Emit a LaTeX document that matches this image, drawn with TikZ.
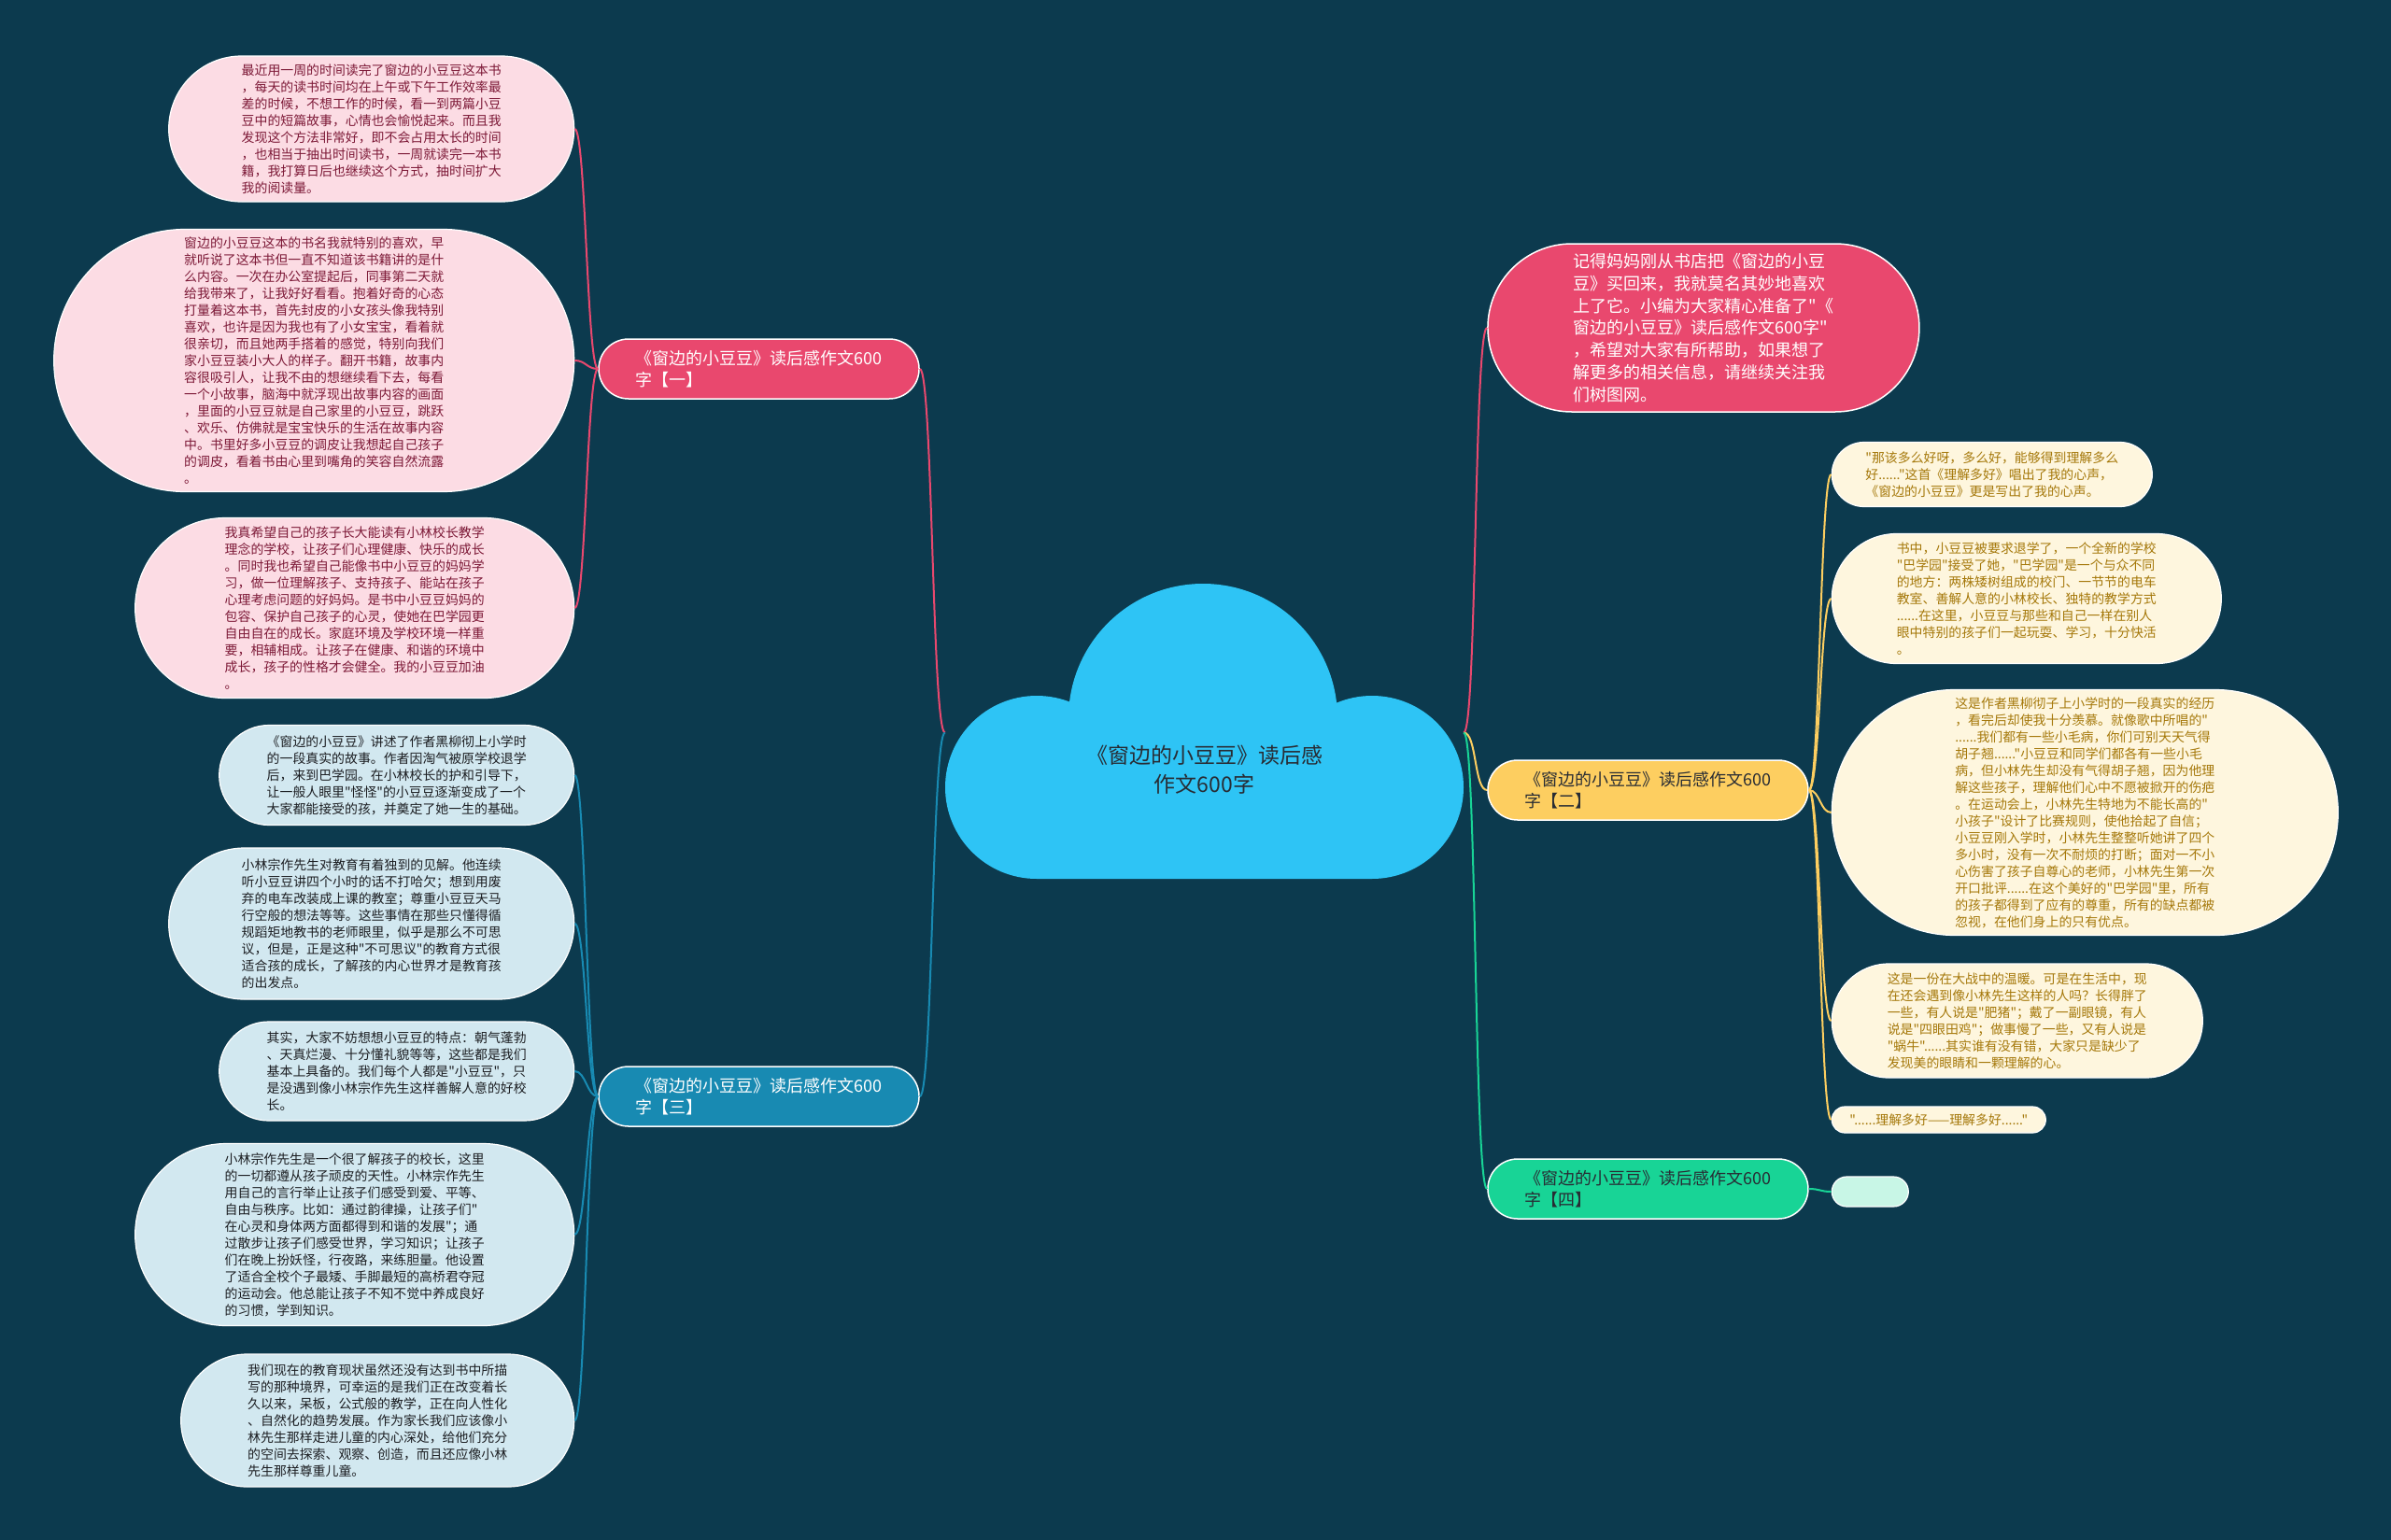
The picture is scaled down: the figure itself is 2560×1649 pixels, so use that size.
\documentclass[tikz,border=0pt]{standalone}
\usepackage{fontspec}
\setmainfont{Noto Sans CJK SC}[Ligatures=TeXOff]
\usepackage{xcolor}
\usepackage{tikz}
\usetikzlibrary{positioning, shapes.misc}
\definecolor{MapBg}{RGB}{12,58,78}
\definecolor{MapSky}{RGB}{46,196,245}
\definecolor{MapInk}{RGB}{40,44,52}
\definecolor{MapRed}{RGB}{233,72,110}
\definecolor{MapTeal}{RGB}{24,138,178}
\definecolor{MapGold}{RGB}{253,206,96}
\definecolor{MapMint}{RGB}{24,212,150}
\definecolor{PinkLeaf}{RGB}{252,220,228}
\definecolor{PinkText}{RGB}{125,25,55}
\definecolor{BlueLeaf}{RGB}{210,232,240}
\definecolor{BlueText}{RGB}{28,30,34}
\definecolor{CreamLeaf}{RGB}{254,246,222}
\definecolor{CreamText}{RGB}{165,120,10}
\definecolor{MintLeaf}{RGB}{200,246,230}

\begin{document}
\begin{tikzpicture}[x=1pt, y=-1pt, every node/.style={align=left},
  branch/.style={rounded rectangle, draw=white, line width=1.5pt, minimum width=343pt, minimum height=64pt, inner xsep=0pt, inner ysep=0pt, font=\fontsize{18}{23}\selectfont},
  leaf/.style={rounded rectangle, draw=white, line width=1.2pt, inner xsep=0pt, inner ysep=0pt, font=\fontsize{13.9}{18}\selectfont},
  pinkleaf/.style={leaf, fill=PinkLeaf, text=PinkText},
  blueleaf/.style={leaf, fill=BlueLeaf, text=BlueText},
  creamleaf/.style={leaf, fill=CreamLeaf, text=CreamText},
  link/.style={line width=2pt}]

\fill[MapBg] (0,0) rectangle (2560,1649);
\useasboundingbox (0,0) rectangle (2560,1649);

% Cloud area of the central topic
\node[minimum width=555pt, minimum height=319pt, inner sep=0pt] (root) at (1289.5,784.5) {};

% First level topics
\node[branch, fill=MapRed, text=white, left=27pt of root, yshift=389.5pt] (b1) {《窗边的小豆豆》读后感作文600\\字【一】};
\node[branch, fill=MapTeal, text=white, left=27pt of root, yshift=-389.5pt] (b3) {《窗边的小豆豆》读后感作文600\\字【三】};
\node[branch, fill=MapRed, text=white, minimum width=462pt, minimum height=180pt, font=\fontsize{18}{23.7}\selectfont, right=25pt of root, yshift=433.5pt] (intro) {记得妈妈刚从书店把《窗边的小豆\\豆》买回来，我就莫名其妙地喜欢\\上了它。小编为大家精心准备了"《\\窗边的小豆豆》读后感作文600字"\\，希望对大家有所帮助，如果想了\\解更多的相关信息，请继续关注我\\们树图网。};
\node[branch, fill=MapGold, text=MapInk, right=25pt of root, yshift=-61.5pt] (b2) {《窗边的小豆豆》读后感作文600\\字【二】};
\node[branch, fill=MapMint, text=MapInk, right=25pt of root, yshift=-488.5pt] (b4) {《窗边的小豆豆》读后感作文600\\字【四】};

% Leaves of topic one
\node[pinkleaf, minimum width=434pt, minimum height=156pt, left=25pt of b1, yshift=257pt] (p1) {最近用一周的时间读完了窗边的小豆豆这本书\\，每天的读书时间均在上午或下午工作效率最\\差的时候，不想工作的时候，看一到两篇小豆\\豆中的短篇故事，心情也会愉悦起来。而且我\\发现这个方法非常好，即不会占用太长的时间\\，也相当于抽出时间读书，一周就读完一本书\\籍，我打算日后也继续这个方式，抽时间扩大\\我的阅读量。};
\node[pinkleaf, minimum width=557pt, minimum height=281pt, left=25pt of b1, yshift=9pt] (p2) {窗边的小豆豆这本的书名我就特别的喜欢，早\\就听说了这本书但一直不知道该书籍讲的是什\\么内容。一次在办公室提起后，同事第二天就\\给我带来了，让我好好看看。抱着好奇的心态\\打量着这本书，首先封皮的小女孩头像我特别\\喜欢，也许是因为我也有了小女宝宝，看着就\\很亲切，而且她两手搭着的感觉，特别向我们\\家小豆豆装小大人的样子。翻开书籍，故事内\\容很吸引人，让我不由的想继续看下去，每看\\一个小故事，脑海中就浮现出故事内容的画面\\，里面的小豆豆就是自己家里的小豆豆，跳跃\\、欢乐、仿佛就是宝宝快乐的生活在故事内容\\中。书里好多小豆豆的调皮让我想起自己孩子\\的调皮，看着书由心里到嘴角的笑容自然流露\\。};
\node[pinkleaf, minimum width=470pt, minimum height=193pt, left=25pt of b1, yshift=-256pt] (p3) {我真希望自己的孩子长大能读有小林校长教学\\理念的学校，让孩子们心理健康、快乐的成长\\。同时我也希望自己能像书中小豆豆的妈妈学\\习，做一位理解孩子、支持孩子、能站在孩子\\心理考虑问题的好妈妈。是书中小豆豆妈妈的\\包容、保护自己孩子的心灵，使她在巴学园更\\自由自在的成长。家庭环境及学校环境一样重\\要，相辅相成。让孩子在健康、和谐的环境中\\成长，孩子的性格才会健全。我的小豆豆加油\\。};

% Leaves of topic three
\node[blueleaf, minimum width=380pt, minimum height=107pt, left=25pt of b3, yshift=344pt] (q1) {《窗边的小豆豆》讲述了作者黑柳彻上小学时\\的一段真实的故事。作者因淘气被原学校退学\\后，来到巴学园。在小林校长的护和引导下，\\让一般人眼里"怪怪"的小豆豆逐渐变成了一个\\大家都能接受的孩，并奠定了她一生的基础。};
\node[blueleaf, minimum width=434pt, minimum height=162pt, left=25pt of b3, yshift=185pt] (q2) {小林宗作先生对教育有着独到的见解。他连续\\听小豆豆讲四个小时的话不打哈欠；想到用废\\弃的电车改装成上课的教室；尊重小豆豆天马\\行空般的想法等等。这些事情在那些只懂得循\\规蹈矩地教书的老师眼里，似乎是那么不可思\\议，但是，正是这种"不可思议"的教育方式很\\适合孩的成长，了解孩的内心世界才是教育孩\\的出发点。};
\node[blueleaf, minimum width=380pt, minimum height=106pt, left=25pt of b3, yshift=27pt] (q3) {其实，大家不妨想想小豆豆的特点：朝气蓬勃\\、天真烂漫、十分懂礼貌等等，这些都是我们\\基本上具备的。我们每个人都是"小豆豆"，只\\是没遇到像小林宗作先生这样善解人意的好校\\长。};
\node[blueleaf, minimum width=470pt, minimum height=195pt, left=25pt of b3, yshift=-148pt] (q4) {小林宗作先生是一个很了解孩子的校长，这里\\的一切都遵从孩子顽皮的天性。小林宗作先生\\用自己的言行举止让孩子们感受到爱、平等、\\自由与秩序。比如：通过韵律操，让孩子们"\\在心灵和身体两方面都得到和谐的发展"；通\\过散步让孩子们感受世界，学习知识；让孩子\\们在晚上扮妖怪，行夜路，来练胆量。他设置\\了适合全校个子最矮、手脚最短的高桥君夺冠\\的运动会。他总能让孩子不知不觉中养成良好\\的习惯，学到知识。};
\node[blueleaf, minimum width=421pt, minimum height=142pt, left=25pt of b3, yshift=-347pt] (q5) {我们现在的教育现状虽然还没有达到书中所描\\写的那种境界，可幸运的是我们正在改变着长\\久以来，呆板，公式般的教学，正在向人性化\\、自然化的趋势发展。作为家长我们应该像小\\林先生那样走进儿童的内心深处，给他们充分\\的空间去探索、观察、创造，而且还应像小林\\先生那样尊重儿童。};

% Leaves of topic two
\node[creamleaf, minimum width=343pt, minimum height=69pt, right=24pt of b2, yshift=338pt] (y1) {"那该多么好呀，多么好，能够得到理解多么\\好......"这首《理解多好》唱出了我的心声，\\《窗边的小豆豆》更是写出了我的心声。};
\node[creamleaf, minimum width=417pt, minimum height=139pt, right=24pt of b2, yshift=205pt] (y2) {书中，小豆豆被要求退学了，一个全新的学校\\"巴学园"接受了她，"巴学园"是一个与众不同\\的地方：两株矮树组成的校门、一节节的电车\\教室、善解人意的小林校长、独特的教学方式\\......在这里，小豆豆与那些和自己一样在别人\\眼中特别的孩子们一起玩耍、学习，十分快活\\。};
\node[creamleaf, minimum width=542pt, minimum height=263pt, right=24pt of b2, yshift=-24pt] (y3) {这是作者黑柳彻子上小学时的一段真实的经历\\，看完后却使我十分羡慕。就像歌中所唱的"\\......我们都有一些小毛病，你们可别天天气得\\胡子翘......"小豆豆和同学们都各有一些小毛\\病，但小林先生却没有气得胡子翘，因为他理\\解这些孩子，理解他们心中不愿被掀开的伤疤\\。在运动会上，小林先生特地为不能长高的"\\小孩子"设计了比赛规则，使他拾起了自信；\\小豆豆刚入学时，小林先生整整听她讲了四个\\多小时，没有一次不耐烦的打断；面对一不小\\心伤害了孩子自尊心的老师，小林先生第一次\\开口批评......在这个美好的"巴学园"里，所有\\的孩子都得到了应有的尊重，所有的缺点都被\\忽视，在他们身上的只有优点。};
\node[creamleaf, minimum width=397pt, minimum height=122pt, right=24pt of b2, yshift=-247pt] (y4) {这是一份在大战中的温暖。可是在生活中，现\\在还会遇到像小林先生这样的人吗？长得胖了\\一些，有人说是"肥猪"；戴了一副眼镜，有人\\说是"四眼田鸡"；做事慢了一些，又有人说是\\"蜗牛"......其实谁有没有错，大家只是缺少了\\发现美的眼睛和一颗理解的心。};
\node[creamleaf, minimum width=229pt, minimum height=28pt, right=24pt of b2, yshift=-353pt] (y5) {"......理解多好——理解多好......"};

% Leaf of topic four (empty)
\node[leaf, fill=MintLeaf, minimum width=82pt, minimum height=32pt, right=24pt of b4, yshift=-3pt] (g1) {};

% Links from the central topic
\draw[link, MapRed] (root.west) .. controls +(-14,0) and +(14,0) .. (b1.east);
\draw[link, MapTeal] (root.west) .. controls +(-14,0) and +(14,0) .. (b3.east);
\draw[link, MapRed] (root.east) .. controls +(14,0) and +(-14,0) .. (intro.west);
\draw[link, MapGold] (root.east) .. controls +(14,0) and +(-14,0) .. (b2.west);
\draw[link, MapMint] (root.east) .. controls +(14,0) and +(-14,0) .. (b4.west);

% Links to the leaves
\draw[link, MapRed] (b1.west) .. controls +(-12,0) and +(12,0) .. (p1.east);
\draw[link, MapRed] (b1.west) .. controls +(-12,0) and +(12,0) .. (p2.east);
\draw[link, MapRed] (b1.west) .. controls +(-12,0) and +(12,0) .. (p3.east);
\draw[link, MapTeal] (b3.west) .. controls +(-12,0) and +(12,0) .. (q1.east);
\draw[link, MapTeal] (b3.west) .. controls +(-12,0) and +(12,0) .. (q2.east);
\draw[link, MapTeal] (b3.west) .. controls +(-12,0) and +(12,0) .. (q3.east);
\draw[link, MapTeal] (b3.west) .. controls +(-12,0) and +(12,0) .. (q4.east);
\draw[link, MapTeal] (b3.west) .. controls +(-12,0) and +(12,0) .. (q5.east);
\draw[link, MapGold] (b2.east) .. controls +(12,0) and +(-12,0) .. (y1.west);
\draw[link, MapGold] (b2.east) .. controls +(12,0) and +(-12,0) .. (y2.west);
\draw[link, MapGold] (b2.east) .. controls +(12,0) and +(-12,0) .. (y3.west);
\draw[link, MapGold] (b2.east) .. controls +(12,0) and +(-12,0) .. (y4.west);
\draw[link, MapGold] (b2.east) .. controls +(12,0) and +(-12,0) .. (y5.west);
\draw[link, MapMint] (b4.east) .. controls +(12,0) and +(-12,0) .. (g1.west);

% The cloud itself, drawn over the link ends
\fill[MapSky] (1288,769) circle (144pt) (1110,843) circle (98pt) (1469,843) circle (98pt) (1110,767) rectangle (1469,941);
\node[font=\fontsize{23}{31}\selectfont, text=MapInk, align=center] (title) at ([yshift=-40pt]root.center) {《窗边的小豆豆》读后感\\作文600字};
\end{tikzpicture}
\end{document}
